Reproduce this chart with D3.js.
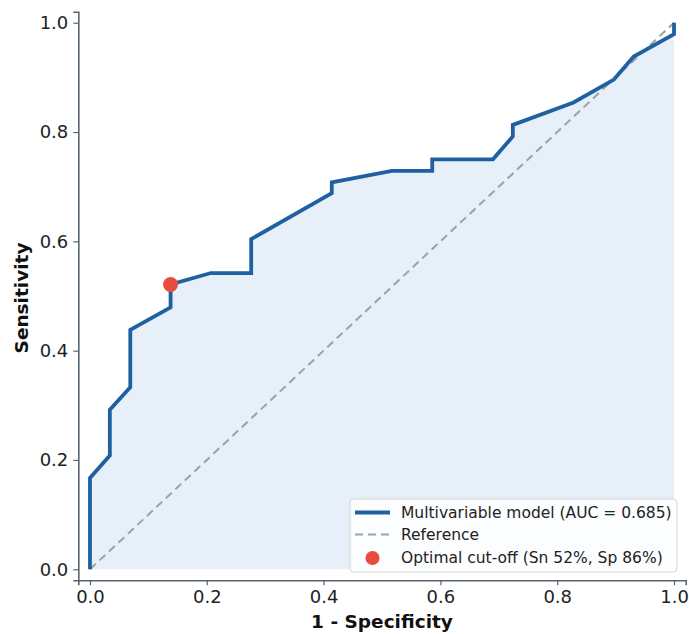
<!DOCTYPE html>
<html>
<head>
<meta charset="utf-8">
<script src="https://cdn.jsdelivr.net/npm/d3@7"></script>
<style>
  body { margin: 0; background: #ffffff; }
  svg { display: block; font-family: 'DejaVu Sans', sans-serif; }
</style>
</head>
<body>
<div id="roc-chart"></div>
<script>
// ROC curve points
const fprValues = [0, 0, 0.034, 0.034, 0.069, 0.069, 0.138, 0.138, 0.207, 0.276, 0.276,
  0.414, 0.414, 0.517, 0.586, 0.586, 0.69, 0.724, 0.724, 0.828, 0.897, 0.931, 1, 1];
const tprValues = [0, 0.167, 0.208, 0.292, 0.333, 0.438, 0.479, 0.521, 0.542, 0.542, 0.604,
  0.688, 0.708, 0.729, 0.729, 0.75, 0.75, 0.792, 0.813, 0.854, 0.896, 0.938, 0.979, 1];
const optimalPoint = [0.138, 0.521];
const tickValues = [0, 0.2, 0.4, 0.6, 0.8, 1.0];
const legendLabels = [
  'Multivariable model (AUC = 0.685)',
  'Reference',
  'Optimal cut-off (Sn 52%, Sp 86%)',
];

const lineColor = '#1f60a0';
const fillColor = '#e7f0f8';
const refColor = '#95a5a6';
const dotColor = '#e74c3c';
const spineColor = '#566573';

const drawRocChart = () => {
  const totalWidth = 689;
  const totalHeight = 634;

  const xScale = d3.scaleLinear().domain([-0.02, 1.02]).range([78.3, 685.7]);
  const yScale = d3.scaleLinear().domain([-0.02, 1.02]).range([580.2, 11.8]);

  const svg = d3
    .select('#roc-chart')
    .append('svg')
    .attr('width', totalWidth)
    .attr('height', totalHeight);

  const points = fprValues.map((x, i) => [x, tprValues[i]]);

  // Shaded area under the curve
  svg
    .append('path')
    .datum(points)
    .attr('fill', fillColor)
    .attr(
      'd',
      d3
        .area()
        .x((d) => xScale(d[0]))
        .y0(yScale(0))
        .y1((d) => yScale(d[1]))
    );

  // Reference diagonal
  svg
    .append('line')
    .attr('x1', xScale(0))
    .attr('y1', yScale(0))
    .attr('x2', xScale(1))
    .attr('y2', yScale(1))
    .attr('stroke', refColor)
    .attr('stroke-width', 2)
    .attr('stroke-dasharray', '8,5');

  // ROC curve
  svg
    .append('path')
    .datum(points)
    .attr('fill', 'none')
    .attr('stroke', lineColor)
    .attr('stroke-width', 3.8)
    .attr('stroke-linejoin', 'miter')
    .attr(
      'd',
      d3
        .line()
        .x((d) => xScale(d[0]))
        .y((d) => yScale(d[1]))
    );

  // Optimal cut-off point
  svg
    .append('circle')
    .attr('cx', xScale(optimalPoint[0]))
    .attr('cy', yScale(optimalPoint[1]))
    .attr('r', 7.5)
    .attr('fill', dotColor);

  // Axes (left and bottom spines only)
  const fmt = d3.format('.1f');
  const xAxis = svg
    .append('g')
    .attr('transform', `translate(0, ${yScale(-0.02)})`)
    .call(d3.axisBottom(xScale).tickValues(tickValues).tickFormat(fmt).tickSizeOuter(0).tickSize(5).tickPadding(5));

  const yAxis = svg
    .append('g')
    .attr('transform', `translate(${xScale(-0.02)}, 0)`)
    .call(d3.axisLeft(yScale).tickValues(tickValues).tickFormat(fmt).tickSizeOuter(0).tickSize(5).tickPadding(5));

  [xAxis, yAxis].forEach((g) => {
    g.select('.domain').attr('stroke', spineColor).attr('stroke-width', 1.6);
    g.selectAll('.tick line').attr('stroke', spineColor).attr('stroke-width', 1.2);
    g.selectAll('.tick text')
      .attr('fill', '#222222')
      .style('font-size', '18px')
      .style('font-family', 'DejaVu Sans');
  });

  // Axis labels
  svg
    .append('text')
    .attr('x', 382)
    .attr('y', 628)
    .attr('text-anchor', 'middle')
    .style('font-size', '18.5px')
    .style('font-weight', 'bold')
    .attr('fill', '#111111')
    .text('1 - Specificity');

  svg
    .append('text')
    .attr('transform', 'translate(28, 298) rotate(-90)')
    .attr('text-anchor', 'middle')
    .style('font-size', '18.5px')
    .style('font-weight', 'bold')
    .attr('fill', '#111111')
    .text('Sensitivity');

  // Legend
  const legend = svg.append('g').attr('transform', 'translate(350, 499)');
  legend
    .append('rect')
    .attr('width', 327)
    .attr('height', 73)
    .attr('rx', 4)
    .attr('fill', '#ffffff')
    .attr('fill-opacity', 0.85)
    .attr('stroke', '#d5d5d5');

  const rowY = [13.5, 35.5, 59];
  legend
    .append('line')
    .attr('x1', 5).attr('x2', 40)
    .attr('y1', rowY[0]).attr('y2', rowY[0])
    .attr('stroke', lineColor)
    .attr('stroke-width', 3.8);
  legend
    .append('line')
    .attr('x1', 5).attr('x2', 40)
    .attr('y1', rowY[1]).attr('y2', rowY[1])
    .attr('stroke', refColor)
    .attr('stroke-width', 2)
    .attr('stroke-dasharray', '8,5');
  legend
    .append('circle')
    .attr('cx', 22.5)
    .attr('cy', rowY[2])
    .attr('r', 7)
    .attr('fill', dotColor);

  legend
    .selectAll('text.label')
    .data(legendLabels)
    .join('text')
    .attr('class', 'label')
    .attr('x', 51)
    .attr('y', (d, i) => rowY[i])
    .attr('dy', '0.35em')
    .attr('fill', '#222222')
    .style('font-size', '15.5px')
    .text((d) => d);
};

drawRocChart();
</script>
</body>
</html>
